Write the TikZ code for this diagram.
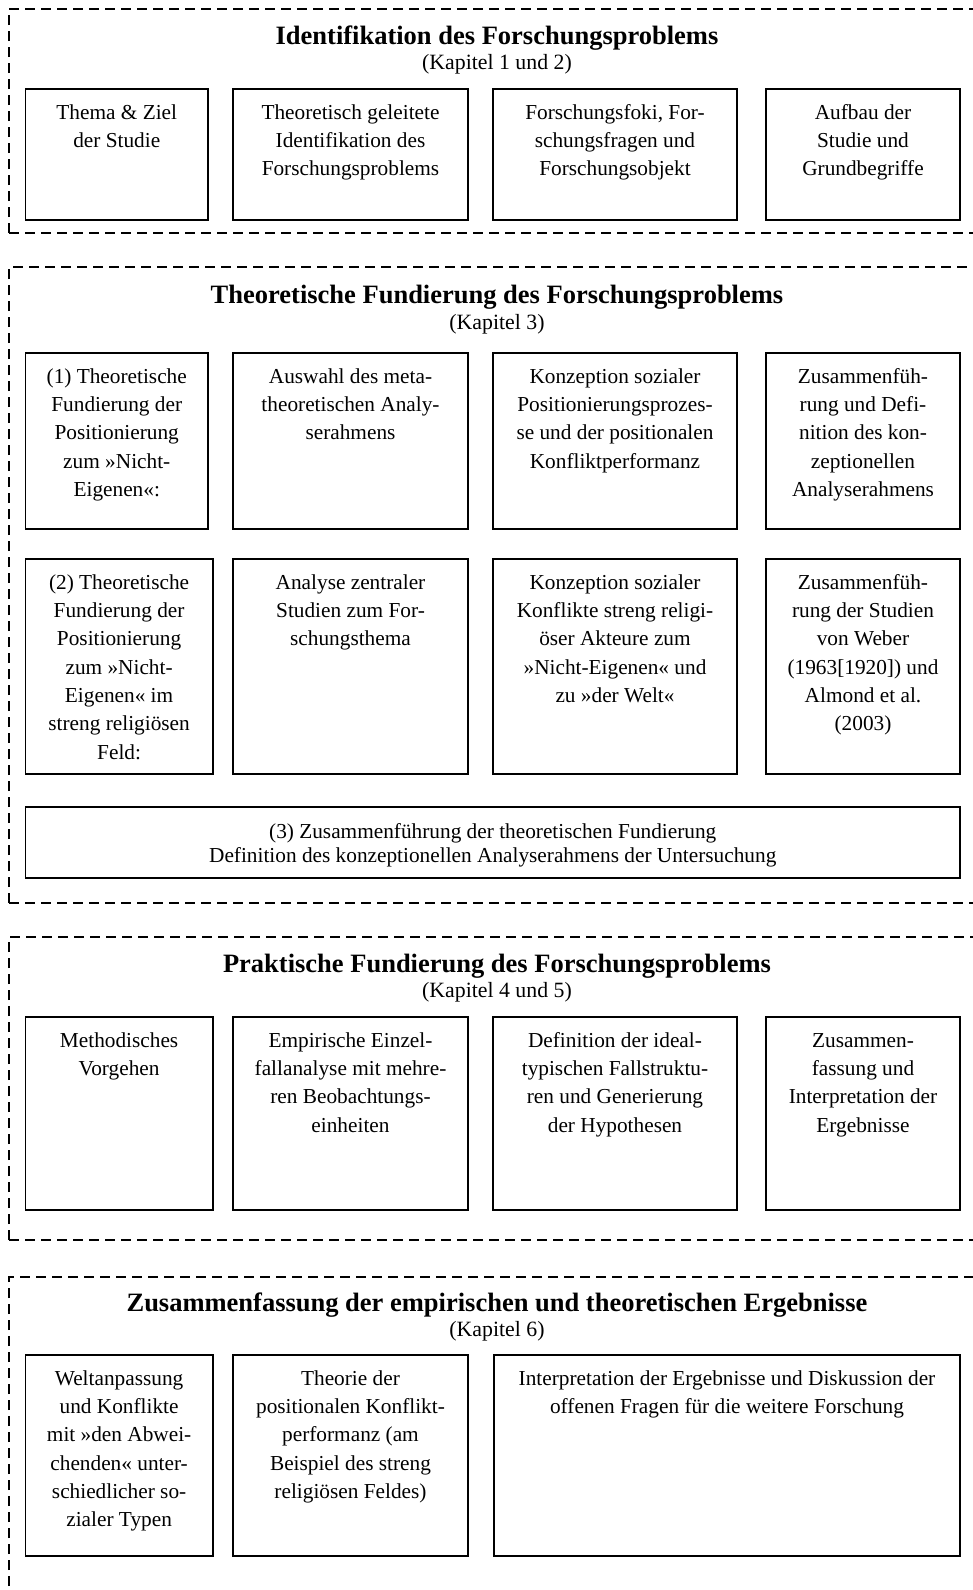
\documentclass[tikz,border=0pt]{standalone}
\usepackage{fontspec}
\setmainfont{Liberation Serif}
\newcommand\mystrut{\rule{0pt}{20pt}}
\tikzset{
  frame/.style={draw, line width=1.8pt, dash pattern=on 10pt off 6pt},
  box/.style={draw, line width=1.8pt, rectangle, inner sep=0pt, outer sep=0pt, anchor=north west},
  txt/.style={inner sep=0pt, align=center, anchor=north, font=\fontsize{21.3}{28.3}\selectfont},
  widetxt/.style={inner sep=0pt, align=center, anchor=north, font=\fontsize{21.3}{24.5}\selectfont},
  ttl/.style={inner sep=0pt, anchor=base, font=\fontsize{26.5}{30}\selectfont\bfseries},
  kap/.style={inner sep=0pt, anchor=base, font=\fontsize{21.8}{26}\selectfont},
}
\newcommand\mkbox[6]{%
  \node[box, minimum width={(#4-#2)*1pt}, minimum height={(#5-#3)*1pt}] (#1) at (#2,#3) {};
  \node[txt] (#1t) at ({(#2+#4)/2},{#3+10}) {\mystrut #6};
}
\newcommand\mkframe[2]{%
  \draw[frame] (9,#2) -- (9,#1) -- (995,#1);
  \draw[frame] (9,#2) -- (995,#2);
}
\begin{document}
\begin{tikzpicture}[x=1pt,y=-1pt]
\useasboundingbox (0,0) rectangle (973,1590);
\clip (0,0) rectangle (973,1590);

% ---------- Section 1 ----------
\mkframe{9}{233}
\node[ttl] (t1) at (497,44) {Identifikation des Forschungsproblems};
\node[kap] (k1) at (497,69) {(Kapitel 1 und 2)};
\mkbox{a1}{25.5}{89}{208}{220}{Thema \& Ziel\\der Studie}
\mkbox{a2}{233}{89}{468}{220}{Theoretisch geleitete\\Identifikation des\\Forschungsproblems}
\mkbox{a3}{493}{89}{737}{220}{Forschungsfoki, For-\\schungsfragen und\\Forschungsobjekt}
\mkbox{a4}{766}{89}{960}{220}{Aufbau der\\Studie und\\Grundbegriffe}

% ---------- Section 2 ----------
\mkframe{267}{903}
\node[ttl] (t2) at (497,303) {Theoretische Fundierung des Forschungsproblems};
\node[kap] (k2) at (497,329) {(Kapitel 3)};
\mkbox{b1}{25.5}{353}{208}{529}{(1) Theoretische\\Fundierung der\\Positionierung\\zum »Nicht-\\Eigenen«:}
\mkbox{b2}{233}{353}{468}{529}{Auswahl des meta-\\theoretischen Analy-\\serahmens}
\mkbox{b3}{493}{353}{737}{529}{Konzeption sozialer\\Positionierungsprozes-\\se und der positionalen\\Konfliktperformanz}
\mkbox{b4}{766}{353}{960}{529}{Zusammenfüh-\\rung und Defi-\\nition des kon-\\zeptionellen\\Analyserahmens}
\mkbox{c1}{25.5}{559}{212.7}{774}{(2) Theoretische\\Fundierung der\\Positionierung\\zum »Nicht-\\Eigenen« im\\streng religiösen\\Feld:}
\mkbox{c2}{233}{559}{468}{774}{Analyse zentraler\\Studien zum For-\\schungsthema}
\mkbox{c3}{493}{559}{737}{774}{Konzeption sozialer\\Konflikte streng religi-\\öser Akteure zum\\»Nicht-Eigenen« und\\zu »der Welt«}
\mkbox{c4}{766}{559}{960}{774}{Zusammenfüh-\\rung der Studien\\von Weber\\(1963[1920]) und\\Almond et al.\\(2003)}
\node[box, minimum width=934.5pt, minimum height=71pt] (w1) at (25.5,807) {};
\node[widetxt] (w1t) at (492.75,818) {\mystrut (3) Zusammenführung der theoretischen Fundierung\\Definition des konzeptionellen Analyserahmens der Untersuchung};

% ---------- Section 3 ----------
\mkframe{937}{1240}
\node[ttl] (t3) at (497,972) {Praktische Fundierung des Forschungsproblems};
\node[kap] (k3) at (497,997) {(Kapitel 4 und 5)};
\mkbox{d1}{25.5}{1017}{212.7}{1210}{Methodisches\\Vorgehen}
\mkbox{d2}{233}{1017}{468}{1210}{Empirische Einzel-\\fallanalyse mit mehre-\\ren Beobachtungs-\\einheiten}
\mkbox{d3}{493}{1017}{737}{1210}{Definition der ideal-\\typischen Fallstruktu-\\ren und Generierung\\der Hypothesen}
\mkbox{d4}{766}{1017}{960}{1210}{Zusammen-\\fassung und\\Interpretation der\\Ergebnisse}

% ---------- Section 4 ----------
\mkframe{1277}{1650}
\node[ttl] (t4) at (497,1311) {Zusammenfassung der empirischen und theoretischen Ergebnisse};
\node[kap] (k4) at (497,1336) {(Kapitel 6)};
\mkbox{e1}{25.5}{1355}{212.7}{1556}{Weltanpassung\\und Konflikte\\mit »den Abwei-\\chenden« unter-\\schiedlicher so-\\zialer Typen}
\mkbox{e2}{233}{1355}{468}{1556}{Theorie der\\positionalen Konflikt-\\performanz (am\\Beispiel des streng\\religiösen Feldes)}
\mkbox{e3}{494}{1355}{960}{1556}{Interpretation der Ergebnisse und Diskussion der\\offenen Fragen für die weitere Forschung}
\end{tikzpicture}
\end{document}
